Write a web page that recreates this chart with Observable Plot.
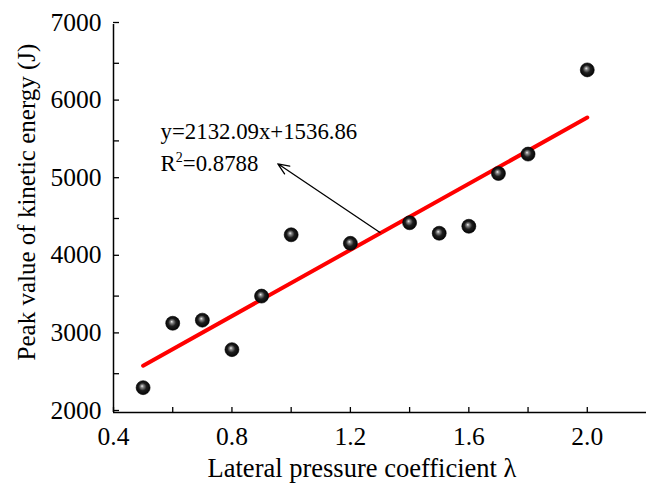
<!DOCTYPE html>
<html><head><meta charset="utf-8">
<script src="https://cdn.jsdelivr.net/npm/d3@7"></script>
<script src="https://cdn.jsdelivr.net/npm/@observablehq/plot@0.6"></script>
<style>html,body{margin:0;padding:0;background:#fff}</style>
</head><body><div id="chart"></div>
<script>
// Data
const lambda = [0.5, 0.6, 0.7, 0.8, 0.9, 1.0, 1.2, 1.4, 1.5, 1.6, 1.7, 1.8, 2.0];
const energy = [2320, 3150, 3190, 2810, 3500, 4290, 4180, 4445, 4310, 4400, 5080, 5330, 6415];
const fitX = [0.5, 2.0];
const fitY = [2603, 5801];
const xMajor = [0.4, 0.8, 1.2, 1.6, 2.0];
const xMinor = [0.6, 1.0, 1.4, 1.8];
const yMajor = [2000, 3000, 4000, 5000, 6000, 7000];
const yMinor = [2500, 3500, 4500, 5500, 6500];
const annotLines = ["y=2132.09x+1536.86", "R2=0.8788"];
const annotX = [0.559, 0.559];
const annotY = [5620, 5208];
const arrowFrom = [1.30, 4320];
const arrowTo = [0.955, 5205];
const xTitle = "Lateral pressure coefficient λ";
const yTitle = "Peak value of kinetic energy (J)";

const points = lambda.map((x, i) => ({x, y: energy[i]}));
const fit = fitX.map((x, i) => ({x, y: fitY[i]}));
const annot = annotLines.map((t, i) => ({t, x: annotX[i], y: annotY[i]}));
const arrows = [{x1: arrowFrom[0], y1: arrowFrom[1], x2: arrowTo[0], y2: arrowTo[1]}];

const W = 656, H = 486, ML = 113, MR = 10, MT = 24, MB = 74;
const font = "'Liberation Serif', 'Times New Roman', serif";

const svg = Plot.plot({
  width: W, height: H,
  marginLeft: ML, marginRight: MR, marginTop: MT, marginBottom: MB,
  style: {fontFamily: font, fontSize: "25px", background: "white", color: "black", overflow: "visible"},
  x: {domain: [0.4, 2.2]},
  y: {domain: [2000, 7000]},
  marks: [
    Plot.axisX({ticks: xMinor, tickSize: -5, tickFormat: () => "", label: null, strokeWidth: 1.3}),
    Plot.axisX({ticks: xMajor, tickSize: -5, tickPadding: 19, tickFormat: d => d.toFixed(1), label: null, strokeWidth: 1.3, fontSize: 25.5}),
    Plot.axisY({ticks: yMinor, tickSize: -6, tickFormat: () => "", label: null, strokeWidth: 1.3}),
    Plot.axisY({ticks: yMajor, tickSize: -6, tickPadding: 18, tickFormat: d => String(d), label: null, strokeWidth: 1.3, fontSize: 25.5, dy: -2}),
    Plot.ruleX([0.4], {strokeWidth: 1.5}),
    Plot.ruleY([2000], {strokeWidth: 1.5}),
    Plot.line(fit, {x: "x", y: "y", stroke: "#ff0000", strokeWidth: 4}),
    Plot.arrow(arrows, {x1: "x1", y1: "y1", x2: "x2", y2: "y2", stroke: "black", strokeWidth: 1.3, headLength: 14, headAngle: 45}),
    Plot.dot(points, {x: "x", y: "y", r: 7, fill: "url(#ball)", stroke: "#000", strokeWidth: 0.6}),
    Plot.text(annot, {x: "x", y: "y", text: "t", textAnchor: "start", lineAnchor: "middle", fontSize: 22.8, fill: "black"})
  ]
});

// sphere gradient
const ns = "http://www.w3.org/2000/svg";
const defs = document.createElementNS(ns, "defs");
defs.innerHTML = `<radialGradient id="ball" cx="0.5" cy="0.5" r="0.55" fx="0.42" fy="0.38">
  <stop offset="0" stop-color="#f2f2f2"/>
  <stop offset="0.18" stop-color="#8a8a8a"/>
  <stop offset="0.5" stop-color="#1e1e1e"/>
  <stop offset="1" stop-color="#000"/>
</radialGradient>`;
svg.insertBefore(defs, svg.firstChild);

const sel = d3.select(svg);
// superscript for R^2
sel.selectAll("text").each(function() {
  if (this.textContent === "R2=0.8788") {
    this.textContent = "";
    const t = d3.select(this);
    t.append("tspan").text("R");
    t.append("tspan").attr("dy", -9).attr("font-size", 14).text("2");
    t.append("tspan").attr("dy", 9).text("=0.8788");
  }
});

// axis titles
sel.append("text")
  .attr("x", 362).attr("y", 477)
  .attr("text-anchor", "middle")
  .attr("font-family", font).attr("font-size", 26.5).attr("fill", "black")
  .text(xTitle);
sel.append("text")
  .attr("transform", "translate(35,202) rotate(-90)")
  .attr("text-anchor", "middle")
  .attr("font-family", font).attr("font-size", 25).attr("fill", "black")
  .text(yTitle);

document.getElementById("chart").appendChild(svg);
</script>
</body></html>
